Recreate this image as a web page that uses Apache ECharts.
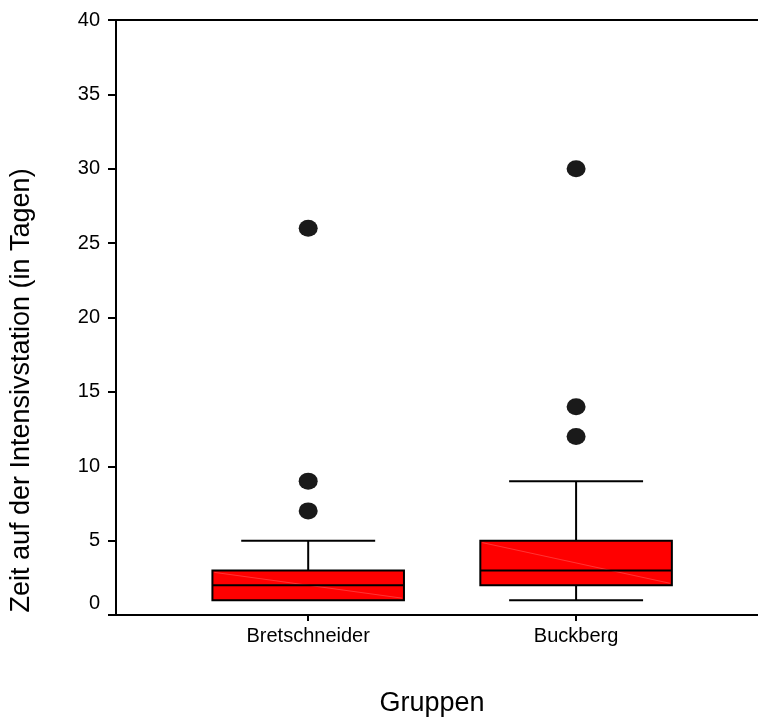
<!DOCTYPE html>
<html>
<head>
<meta charset="utf-8">
<script src="https://cdn.jsdelivr.net/npm/echarts@6/dist/echarts.min.js"></script>
<style>
html,body{margin:0;padding:0;background:#fff;}
#chart{width:758px;height:722px;}
</style>
</head>
<body>
<div id="chart"></div>
<script>
// ---- data ----
const categories = ['Bretschneider', 'Buckberg'];
const whiskerLow = [1, 1];
const q1 = [1, 2];
const median = [2, 3];
const q3 = [3, 5];
const whiskerHigh = [5, 9];
const outliers = [[7, 9, 26], [12, 14, 30]];
const yTicks = [0, 5, 10, 15, 20, 25, 30, 35, 40];

const positions = categories.map((c, i) => i + 1);
const boxData = categories.map((c, i) => [positions[i], whiskerLow[i], q1[i], median[i], q3[i], whiskerHigh[i]]);
const outlierData = [];
outliers.forEach((arr, i) => arr.forEach(v => outlierData.push([positions[i], v])));

const FONT = 'Liberation Sans, Arial, sans-serif';
const chart = echarts.init(document.getElementById('chart'), null, {renderer: 'canvas'});

function renderBox(params, api) {
  const x = api.value(0);
  const lo = api.coord([x, api.value(1)]);
  const b1 = api.coord([x, api.value(2)]);
  const md = api.coord([x, api.value(3)]);
  const b3 = api.coord([x, api.value(4)]);
  const hi = api.coord([x, api.value(5)]);
  const boxW = api.size([0.715, 0])[0];
  const capW = api.size([0.5, 0])[0];
  const cx = lo[0];
  const lineStyle = {stroke: '#000', lineWidth: 2, fill: null};
  const children = [];
  if (api.value(1) < api.value(2)) {
    children.push({type: 'line', shape: {x1: cx, y1: b1[1], x2: cx, y2: lo[1]}, style: lineStyle});
    children.push({type: 'line', shape: {x1: cx - capW / 2, y1: lo[1], x2: cx + capW / 2, y2: lo[1]}, style: lineStyle});
  }
  if (api.value(5) > api.value(4)) {
    children.push({type: 'line', shape: {x1: cx, y1: b3[1], x2: cx, y2: hi[1]}, style: lineStyle});
    children.push({type: 'line', shape: {x1: cx - capW / 2, y1: hi[1], x2: cx + capW / 2, y2: hi[1]}, style: lineStyle});
  }
  children.push({type: 'rect', shape: {x: cx - boxW / 2, y: b3[1], width: boxW, height: b1[1] - b3[1]},
    style: {fill: '#ff0000', stroke: '#000', lineWidth: 2}});
  children.push({type: 'line', shape: {x1: cx - boxW / 2 + 2, y1: b3[1] + 2, x2: cx + boxW / 2 - 2, y2: b1[1] - 2},
    style: {stroke: 'rgba(255,150,150,0.7)', lineWidth: 0.5}});
  children.push({type: 'line', shape: {x1: cx - boxW / 2, y1: md[1], x2: cx + boxW / 2, y2: md[1]}, style: lineStyle});
  return {type: 'group', children: children};
}

const option = {
  backgroundColor: '#fff',
  animation: false,
  grid: {left: 105, right: 0, top: 20, bottom: 103, containLabel: false},
  xAxis: [{
    type: 'value',
    min: 0.2826,
    max: 2.679,
    splitLine: {show: false},
    axisLine: {show: true, lineStyle: {color: '#000', width: 2}},
    axisTick: {show: true, customValues: positions, length: 6, lineStyle: {color: '#000', width: 2}},
    axisLabel: {
      show: true, customValues: positions, margin: 11,
      color: '#000', fontSize: 20, fontFamily: FONT,
      formatter: v => categories[Math.round(v) - 1] || ''
    },
    name: 'Gruppen',
    nameLocation: 'middle',
    nameGap: 75,
    nameTextStyle: {color: '#000', fontSize: 27, fontFamily: FONT, padding: [0, 10, 0, 0]}
  }, {
    type: 'value',
    position: 'top',
    min: 0.2826,
    max: 2.679,
    axisLine: {show: true, lineStyle: {color: '#000', width: 2}},
    axisTick: {show: false},
    axisLabel: {show: false},
    splitLine: {show: false}
  }],
  yAxis: {
    type: 'value',
    min: 0,
    max: 40,
    interval: 5,
    splitLine: {show: false},
    axisLine: {show: true, lineStyle: {color: '#000', width: 2}},
    axisTick: {show: true, length: 8, lineStyle: {color: '#000', width: 2}},
    axisLabel: {
      margin: 16, color: '#000', fontSize: 20, fontFamily: FONT,
      formatter: v => (v === yTicks[0] ? '{z|' + v + '}' : String(v)),
      rich: {z: {fontSize: 20, fontFamily: FONT, color: '#000', padding: [0, 0, 24, 0]}}
    },
    name: 'Zeit auf der Intensivstation (in Tagen)',
    nameLocation: 'middle',
    nameGap: 81,
    nameRotate: 90,
    nameTextStyle: {color: '#000', fontSize: 27, fontFamily: FONT, padding: [0, 146, 0, 0]}
  },
  series: [{
    type: 'custom',
    xAxisIndex: 0,
    renderItem: renderBox,
    encode: {x: 0, y: [1, 2, 3, 4, 5]},
    data: boxData,
    z: 2
  }, {
    type: 'scatter',
    xAxisIndex: 0,
    data: outlierData,
    symbol: 'circle',
    symbolSize: [19, 17],
    itemStyle: {color: '#1a1a1a', opacity: 1},
    z: 3
  }]
};
chart.setOption(option);
</script>
</body>
</html>
